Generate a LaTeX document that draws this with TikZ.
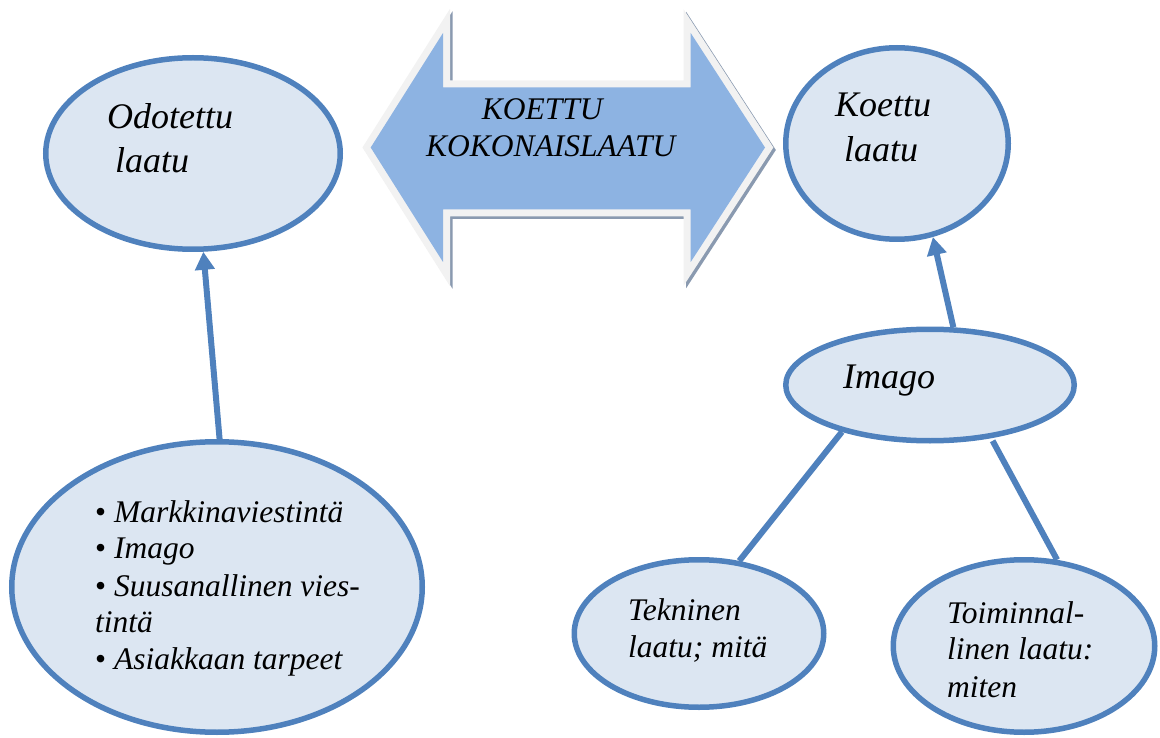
\documentclass[tikz,border=0pt]{standalone}
\usepackage{fontspec}
\setmainfont{Liberation Serif}
\usetikzlibrary{shapes.geometric,arrows.meta}
\definecolor{edgeblue}{HTML}{4F81BD}
\definecolor{ellfill}{HTML}{DCE6F2}
\definecolor{arrowfill}{HTML}{8DB3E2}
\definecolor{arrowborder}{HTML}{F2F2F2}
\definecolor{arrowshadow}{HTML}{8A9AB0}
\tikzset{
  oval/.style={ellipse, draw=edgeblue, fill=ellfill, line width=5.5pt, inner sep=0pt},
  conn/.style={draw=edgeblue, line width=6pt},
  upar/.style={conn, -{Triangle[width=19pt,length=18pt]}},
  lbl/.style={inner sep=0pt, anchor=base west, font=\fontsize{31.5}{37}\selectfont\itshape},
  biglbl/.style={inner sep=0pt, anchor=base west, font=\fontsize{36}{44}\selectfont\itshape},
  bigarrow/.style={line join=miter, line width=14pt}
}
\newcommand{\bul}{{\upshape\textbullet}\ }
\begin{document}
\begin{tikzpicture}[x=1pt,y=-1pt]
\useasboundingbox (0,0) rectangle (1160,738);

% double arrow
\def\dblarrow{(370.7,147.5) -- (443,33) -- (443,87.3) -- (690.7,87.3) -- (690.7,33) -- (765,147.5) -- (690.7,262) -- (690.7,209.3) -- (443,209.3) -- (443,262) -- cycle}
\draw[bigarrow, draw=arrowshadow, shift={(2.5,2.5)}] \dblarrow;
\draw[bigarrow, draw=arrowborder] \dblarrow;
\fill[arrowfill] \dblarrow;
\node[lbl] (koT1) at (481.7,119.3) {KOETTU};
\node[lbl] (koT2) at (426,156.7) {KOKONAISLAATU};

% ellipses
\node[oval, minimum width=294.5pt, minimum height=191.5pt] (odo) at (193,153.5) {};
\node[oval, minimum width=222.5pt, minimum height=191.5pt] (koe) at (897,143.5) {};
\node[oval, minimum width=288.5pt, minimum height=111.5pt] (img) at (930,385) {};
\node[oval, minimum width=410.5pt, minimum height=290.5pt] (bl) at (217,587) {};
\node[oval, minimum width=249.5pt, minimum height=147.5pt] (tek) at (699,633.5) {};
\node[oval, minimum width=261.5pt, minimum height=172.5pt] (toi) at (1024,646) {};

% texts
\node[biglbl] (odoT1) at (107,129) {Odotettu};
\node[biglbl] (odoT2) at (115,173) {laatu};
\node[biglbl] (koeT1) at (835,117) {Koettu};
\node[biglbl] (koeT2) at (844,162) {laatu};
\node[biglbl] (imgT) at (843,388) {Imago};
\node[lbl] (blT1) at (95,522) {\bul Markkinaviestintä};
\node[lbl] (blT2) at (95,558) {\bul Imago};
\node[lbl] (blT3) at (95,596) {\bul Suusanallinen vies-};
\node[lbl] (blT4) at (95,632) {tintä};
\node[lbl] (blT5) at (95,669) {\bul Asiakkaan tarpeet};
\node[lbl] (tekT1) at (628,620) {Tekninen};
\node[lbl] (tekT2) at (628,657) {laatu; mitä};
\node[lbl] (toiT1) at (947,623) {Toiminnal-};
\node[lbl] (toiT2) at (947,659) {linen laatu:};
\node[lbl] (toiT3) at (947,697) {miten};

% connectors
\draw[upar] (bl.89) -- (odo.-84);
\draw[upar] (img.68) -- (koe.-69.5);
\draw[conn] (img.-152) -- (tek.61.5);
\draw[conn, shorten <=3pt] (img.-41.6) -- (toi.69.7);
\end{tikzpicture}
\end{document}
